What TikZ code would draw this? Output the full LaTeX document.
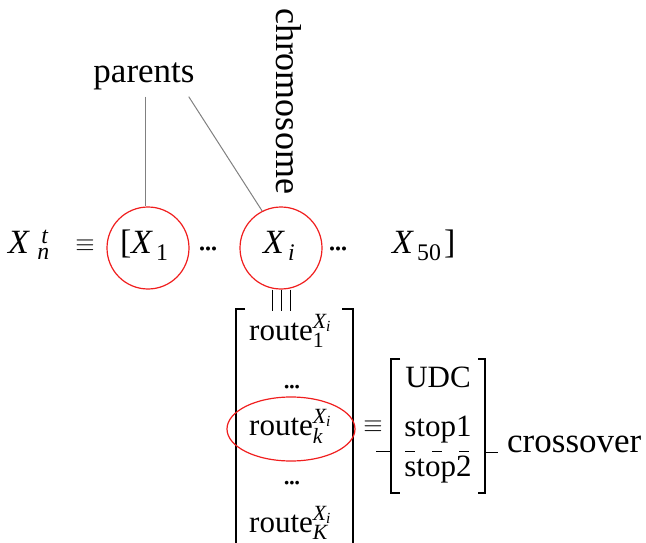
\documentclass[tikz,border=0pt]{standalone}
\usepackage{fontspec}
\setmainfont{Liberation Serif}
\usepackage{xcolor}
\usetikzlibrary{positioning, calc}
\definecolor{ringred}{RGB}{240,30,30}
\newcommand{\dts}{.\kern-2.5pt.\kern-2.5pt.}

\begin{document}
\begin{tikzpicture}[
  x=1pt, y=-1pt,
  big/.style={font=\fontsize{34}{40}\selectfont, inner sep=0pt},
  mid/.style={font=\fontsize{31}{36}\selectfont, inner sep=0pt},
  ring/.style={circle, draw=ringred, line width=1.2pt,
               minimum size=82pt, inner sep=0pt},
  lead/.style={draw=gray, line width=1pt},
  brk/.style={line width=1.2pt}
]
\clip (0,0) rectangle (646,543);

% labels on top
\node[big, font=\fontsize{35}{40}\selectfont, inner sep=6pt, anchor=base] (parents) at (144,83) {parents};
\node[big, font=\fontsize{36}{40}\selectfont, rotate=-90] (chromo) at (289,101) {chromosome};

% the chromosome vector
\node[ring] (c1) at (148,248) {};
\node[ring] (c2) at (281,248) {};

\node[big, anchor=base west] (xnt) at (8,253) {$\mathit{X}^{\,\,\,\mathit{t}}_{\,\,\mathit{n}}$};
\node[big] (eqv) at (85,246) {$\equiv$};
\node[big, anchor=base west] (lb) at (120,253) {[};
\node[big, anchor=base west] (x1) at (131,253) {$\mathit{X}_{\,\mathrm{1}}$};
\node[big] (dots1) at (208,249) {\dts};
\node[big, anchor=base west] (xi) at (263,253) {$\mathit{X}_{\,\mathit{i}}$};
\node[big] (dots2) at (338,249) {\dts};
\node[big, anchor=base west] (x50) at (392,253) {$\mathit{X}_{\,\mathrm{50}}$};
\node[big, anchor=base west] (rb) at (444,253) {]};

\draw[lead] (parents.south -| c1.93) -- (c1.93);
\draw[lead] ([xshift=-12pt]parents.south east) -- (c2.117);

% routes of one chromosome
\foreach \dx in {-9,0,9}
  \draw[line width=1pt] ([xshift=\dx pt]c2.south) -- ++(0,21);
\draw[brk] (245,309) -- (236,309) -- (236,545);
\draw[brk] (342,309) -- (353,309) -- (353,545);

\node[mid, anchor=base west] (r1) at (249,340) {route$^{\mathit{X}_{\mathit{i}}}_{\mathrm{1}}$};
\node[mid] (d1) at (292,387) {\dts};
\node[mid, anchor=base west] (rk) at (249,435) {route$^{\mathit{X}_{\mathit{i}}}_{\mathit{k}}$};
\node[mid] (d2) at (292,483) {\dts};
\node[mid, anchor=base west] (rK) at (249,532) {route$^{\mathit{X}_{\mathit{i}}}_{\mathit{K}}$};
\draw[draw=ringred, line width=1.2pt] (291,429) ellipse [x radius=64, y radius=32];

% one route
\node[big] (eqv2) at (373,427) {$\equiv$};
\draw[brk] (400,359) -- (391,359) -- (391,493) -- (400,493);
\draw[brk] (478,359) -- (485,359) -- (485,493) -- (478,493);
\node[mid, anchor=base] (udc) at (438,387) {UDC};
\node[mid, anchor=base] (s1) at (438,436) {stop1};
\node[mid, anchor=base] (s2) at (438,476) {stop2};
\draw[dash pattern=on 10pt off 17pt, line width=1pt] (405,451) -- (469,451);

\node[big, font=\fontsize{35}{40}\selectfont, anchor=base west] (cross) at (507,452) {crossover};
\draw[line width=1pt] (376,451) -- (391,451);
\draw[line width=1pt] (485,452) -- ([xshift=-9pt]cross.base west);
\end{tikzpicture}
\end{document}
